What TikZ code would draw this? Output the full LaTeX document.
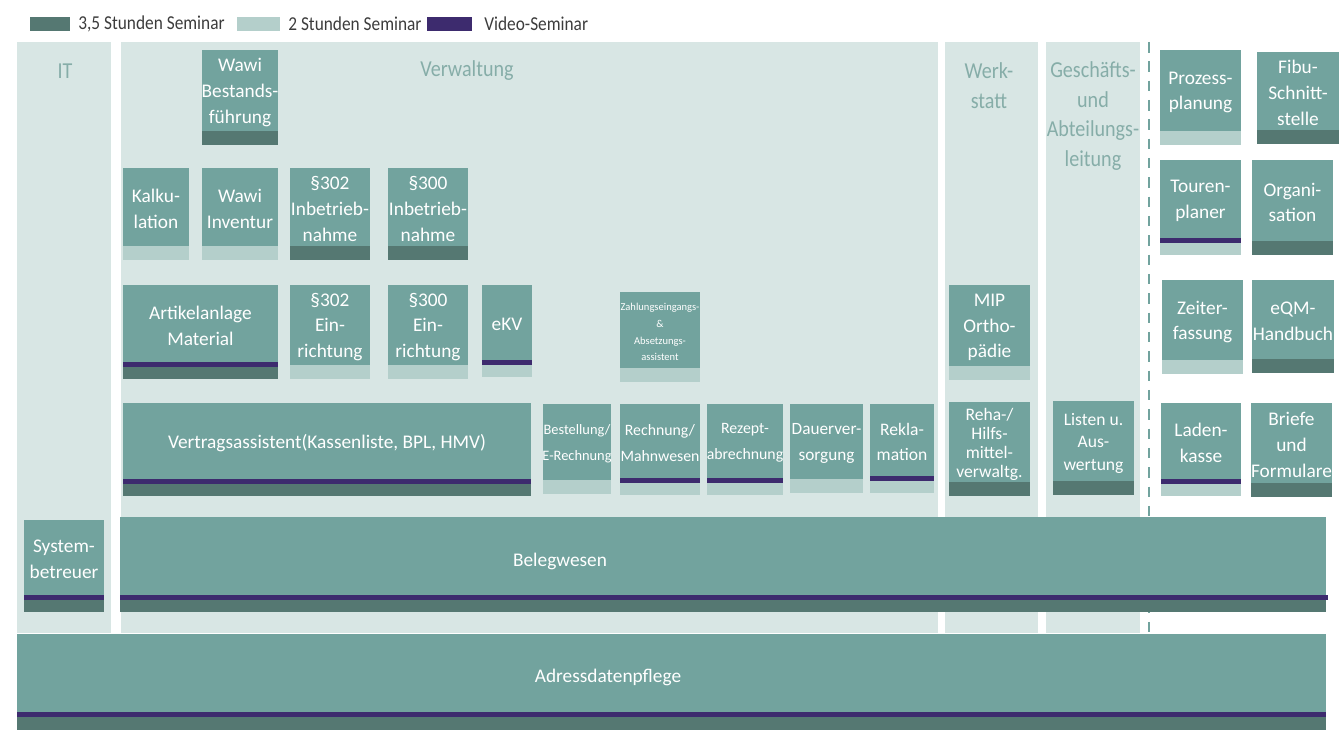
\documentclass[tikz,border=0pt]{standalone}
\usepackage{fontspec}
\setmainfont{Carlito}
\newfontfamily\schmal[FakeStretch=0.88]{Carlito}
\usepackage{tikz}
\usetikzlibrary{calc}

\definecolor{kursgruen}{HTML}{72A39E}
\definecolor{kursdunkel}{HTML}{557872}
\definecolor{kurshell}{HTML}{B4CFCB}
\definecolor{videolila}{HTML}{3D2B6E}
\definecolor{bereich}{HTML}{D8E6E4}
\definecolor{bereichtext}{HTML}{86ADA8}
\definecolor{legendetext}{HTML}{3C3C3C}

\tikzset{
  kurstext/.style={text=white, align=center, inner sep=0pt, font=\fontsize{11}{14.7}\selectfont},
  bereichtitel/.style={text=bereichtext, align=center, inner sep=0pt, font=\schmal\fontsize{13}{17}\selectfont},
  legende/.style={text=legendetext, anchor=west, inner sep=0pt, font=\schmal\fontsize{11.2}{12}\selectfont},
  trennlinie/.style={draw=kursgruen, line width=1.2pt, dash pattern=on 6 off 5}
}

% Kurs mit Streifen: [Textstil]{Name}{x1}{x2}{y1}{y2}{Text}
\newcommand{\kursL}[7][]{%
  \fill[kursgruen] (#3,#5) rectangle (#4,#6);
  \fill[kurshell] (#3,#6-14) rectangle (#4,#6);
  \node[kurstext,#1] (#2) at ({(#3+#4)/2},{(#5+#6-14)/2+2}) {#7};}
\newcommand{\kursD}[7][]{%
  \fill[kursgruen] (#3,#5) rectangle (#4,#6);
  \fill[kursdunkel] (#3,#6-14) rectangle (#4,#6);
  \node[kurstext,#1] (#2) at ({(#3+#4)/2},{(#5+#6-14)/2+2}) {#7};}
\newcommand{\kursPL}[7][]{%
  \fill[kursgruen] (#3,#5) rectangle (#4,#6);
  \fill[videolila] (#3,#6-17) rectangle (#4,#6-12);
  \fill[kurshell] (#3,#6-12) rectangle (#4,#6);
  \node[kurstext,#1] (#2) at ({(#3+#4)/2},{(#5+#6-17)/2+2}) {#7};}
\newcommand{\kursPD}[7][]{%
  \fill[kursgruen] (#3,#5) rectangle (#4,#6);
  \fill[videolila] (#3,#6-17) rectangle (#4,#6-12);
  \fill[kursdunkel] (#3,#6-12) rectangle (#4,#6);
  \node[kurstext,#1] (#2) at ({(#3+#4)/2},{(#5+#6-17)/2+2}) {#7};}

\begin{document}
\begin{tikzpicture}[x=0.02cm,y=-0.02cm]
  \useasboundingbox (0,0) rectangle (1339,742);

  % Legende
  \fill[kursdunkel] (30,17) rectangle (70,31);
  \node[legende] (leg35) at (78,24) {3,5 Stunden Seminar};
  \fill[kurshell] (237,17) rectangle (280,31);
  \node[legende] (leg2) at (288,24) {2 Stunden Seminar};
  \fill[videolila] (427,17) rectangle (472,31);
  \node[legende] (legvideo) at (484,24) {Video-Seminar};

  % Bereiche
  \fill[bereich] (17,42) rectangle (111,633);
  \fill[bereich] (121,42) rectangle (938,633);
  \fill[bereich] (945,42) rectangle (1038,633);
  \fill[bereich] (1046,42) rectangle (1140,633);
  \coordinate (trennoben) at (1149,42);
  \coordinate (trennunten) at (1149,730);
  \draw[trennlinie] (trennoben) -- (trennunten);

  \node[bereichtitel] (it) at (65,71) {IT};
  \node[bereichtitel] (verwaltung) at (467,71) {Verwaltung};
  \node[bereichtitel] (werkstatt) at (989,86) {Werk-\\statt};
  \node[bereichtitel] (leitung) at (1093,116) {Geschäfts-\\und\\Abteilungs-\\leitung};

  % Verwaltung
  \kursD{bestand}{202}{278}{50}{145}{Wawi\\Bestands-\\führung}
  \kursL{kalk}{123}{189}{168}{260}{Kalku-\\lation}
  \kursL{inventur}{202}{278}{168}{260}{Wawi\\Inventur}
  \kursD{inb302}{290}{370}{168}{260}{§302\\Inbetrieb-\\nahme}
  \kursD{inb300}{388}{468}{168}{260}{§300\\Inbetrieb-\\nahme}
  \kursPD{artikel}{123}{278}{285}{379}{Artikelanlage\\Material}
  \kursL{ein302}{290}{370}{285}{379}{§302\\Ein-\\richtung}
  \kursL{ein300}{388}{468}{285}{379}{§300\\Ein-\\richtung}
  \kursPL{ekv}{482}{532}{285}{377}{eKV}
  \kursL[font=\fontsize{6}{9.6}\selectfont]{zahlung}{620}{700}{292}{382}{Zahlungseingangs-\\\&\\Absetzungs-\\assistent}
  \kursPD{vertrag}{123}{531}{403}{496}{Vertragsassistent(Kassenliste, BPL, HMV)}
  \kursL[font=\fontsize{8.2}{14.7}\selectfont]{bestellung}{543}{611}{404}{494}{Bestellung/\\E-Rechnung}
  \kursPL[font=\fontsize{9}{14.7}\selectfont]{rechnung}{620}{700}{404}{495}{Rechnung/\\Mahnwesen}
  \kursPL[font=\fontsize{9}{14.7}\selectfont]{rezept}{707}{783}{404}{495}{Rezept-\\abrechnung}
  \kursL[font=\fontsize{9.8}{14.7}\selectfont]{dauer}{790}{863}{404}{493}{Dauerver-\\sorgung}
  \kursPL[font=\fontsize{10}{14.7}\selectfont]{rekla}{870}{934}{404}{493}{Rekla-\\mation}

  % Werkstatt, Leitung
  \kursL{mip}{949}{1030}{285}{380}{MIP\\Ortho-\\pädie}
  \kursD[font=\fontsize{10}{10.8}\selectfont]{reha}{949}{1030}{402}{496}{Reha-/\\Hilfs-\\mittel-\\verwaltg.}
  \kursD[font=\fontsize{10}{12.8}\selectfont]{listen}{1053}{1134}{401}{495}{Listen u.\\Aus-\\wertung}

  % rechte Spalte
  \kursL{prozess}{1160}{1241}{50}{145}{Prozess-\\planung}
  \kursD{fibu}{1257}{1339}{52}{144}{Fibu-\\Schnitt-\\stelle}
  \kursPL{touren}{1160}{1241}{160}{255}{Touren-\\planer}
  \kursD{organi}{1252}{1333}{160}{255}{Organi-\\sation}
  \kursL{zeit}{1162}{1243}{280}{374}{Zeiter-\\fassung}
  \kursD{eqm}{1252}{1334}{280}{373}{eQM-\\Handbuch}
  \kursPL{laden}{1161}{1241}{403}{496}{Laden-\\kasse}
  \kursD{briefe}{1251}{1332}{403}{497}{Briefe\\und\\Formulare}

  % IT
  \kursPD{system}{24}{104}{520}{612}{System-\\betreuer}

  % Belegwesen und Adressdatenpflege
  \fill[kursgruen] (120,517) rectangle (1326,612);
  \fill[videolila] (120,595) rectangle (1328,600);
  \fill[kursdunkel] (120,600) rectangle (1326,612);
  \node[kurstext] (beleg) at (560,561) {Belegwesen};
  \fill[kursgruen] (17,634) rectangle (1326,730);
  \fill[videolila] (17,712) rectangle (1326,717);
  \fill[kursdunkel] (17,717) rectangle (1326,730);
  \node[kurstext] (adresse) at (608,677) {Adressdatenpflege};
\end{tikzpicture}
\end{document}
